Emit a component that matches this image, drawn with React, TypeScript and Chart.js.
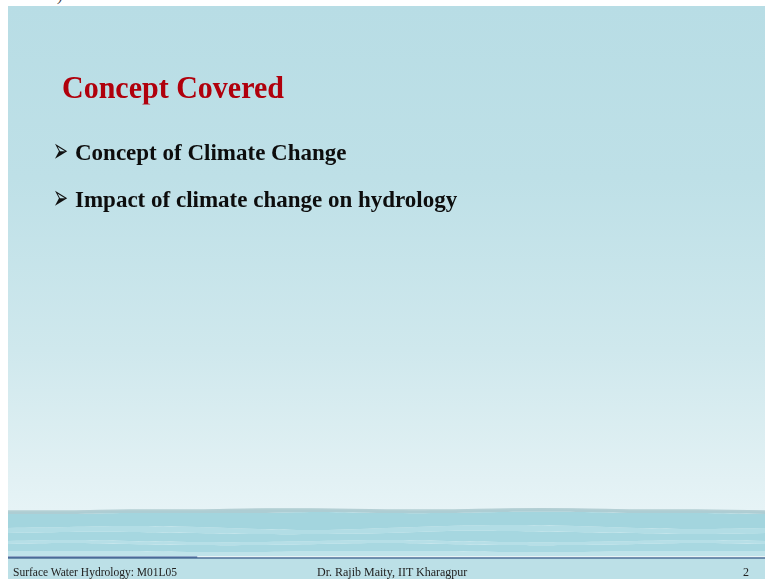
import React, { useEffect, useRef } from "react";
import { Chart, registerables } from "chart.js";

Chart.register(...registerables);

// Slide text
const titleText = "Concept Covered";
const bulletItems = ["Concept of Climate Change", "Impact of climate change on hydrology"];
const footerLeft = "Surface Water Hydrology: M01L05";
const footerCenter = "Dr. Rajib Maity, IIT Kharagpur";
const footerPage = "2";

// Decorative wave band at the bottom of the slide
// x: percent of slide width; y: depth from slide top (slide is 573 units tall)
const wavePosX = [0, 8, 16, 25, 33, 41, 50, 58, 66, 75, 83, 91, 100];
const waveTop = [505, 505, 504, 504, 503, 503, 504, 504, 503, 503, 504, 504, 505];
const waveEdge = [508, 508, 507, 507, 507, 506, 507, 507, 506, 506, 507, 507, 508];
const streakTop = [522, 521, 520, 521, 523, 524, 522, 520, 519, 520, 522, 523, 522];
const streakBottom = [527, 526, 526, 527, 528, 528, 527, 525, 525, 526, 527, 528, 527];
const lowerStreakTop = [535, 534, 535, 536, 536, 535, 534, 535, 536, 536, 535, 534, 535];
const lowerStreakBottom = [538, 537, 538, 539, 539, 538, 537, 538, 539, 539, 538, 537, 538];
const lowerBand = [545, 545, 545, 546, 546, 545, 545, 545, 546, 546, 545, 545, 545];
const shoreLine = [550, 550, 550, 550, 550, 550, 550, 550, 550, 550, 550, 550, 550];
const rule = [552, 552, 552, 552, 552, 552, 552, 552, 552, 552, 552, 552, 552];
const ruleThick = [552, 552, 552, 552, null, null, null, null, null, null, null, null, null];

const toPts = (arr: (number | null)[]) => wavePosX.map((x, i) => ({ x, y: arr[i] }));

const SERIF = "'Liberation Serif', 'Times New Roman', serif";

export default function App() {
  const ref = useRef<HTMLCanvasElement | null>(null);

  useEffect(() => {
    if (!ref.current) return;
    const bg = {
      id: "slideBg",
      beforeDraw(chart: any) {
        const { ctx, width, height } = chart;
        const g = ctx.createLinearGradient(0, 0, 0, height);
        g.addColorStop(0, "#b8dde5");
        g.addColorStop(0.3, "#bee0e7");
        g.addColorStop(0.6, "#cfe8ed");
        g.addColorStop(0.8, "#e0f0f3");
        g.addColorStop(0.88, "#e6f3f6");
        g.addColorStop(1, "#e8f4f6");
        ctx.save();
        ctx.fillStyle = g;
        ctx.fillRect(0, 0, width, height);
        ctx.restore();
      },
    };
    const common = { pointRadius: 0, tension: 0.4, borderWidth: 0 };
    const chart = new Chart(ref.current, {
      type: "line",
      data: {
        datasets: [
          { ...common, data: toPts(waveTop), borderColor: "#b4cfd4", borderWidth: 1.5, fill: false },
          { ...common, data: toPts(waveEdge), backgroundColor: "#adcdd3", fill: "-1" },
          { ...common, data: toPts(streakTop), backgroundColor: "#a3d5de", fill: "-1" },
          { ...common, data: toPts(streakBottom), backgroundColor: "#b2dde5", fill: "-1" },
          { ...common, data: toPts(lowerStreakTop), backgroundColor: "#a6d7e0", fill: "-1" },
          { ...common, data: toPts(lowerStreakBottom), backgroundColor: "#b6dfe7", fill: "-1" },
          { ...common, data: toPts(lowerBand), backgroundColor: "#a8d8e1", fill: "-1" },
          { ...common, data: toPts(shoreLine), backgroundColor: "#bfe3ea", fill: "-1" },
          { ...common, data: toPts(rule), backgroundColor: "#bce0e7", borderColor: "#4f7199", borderWidth: 1.5, fill: "start", tension: 0 },
          { ...common, data: toPts(ruleThick), borderColor: "#3b5d97", borderWidth: 3, fill: false, tension: 0, spanGaps: false },
        ] as any,
      },
      options: {
        animation: false,
        responsive: false,
        maintainAspectRatio: false,
        layout: { padding: 0 },
        scales: {
          x: { type: "linear", min: 0, max: 100, display: false },
          y: { type: "linear", min: 0, max: 573, reverse: true, display: false },
        },
        plugins: { legend: { display: false }, tooltip: { enabled: false }, title: { display: false } },
      },
      plugins: [bg],
    });
    return () => chart.destroy();
  }, []);

  return (
    <div
      style={{
        position: "absolute",
        left: 0,
        top: 0,
        width: 765,
        height: 579,
        overflow: "hidden",
        background: "#ffffff",
        fontFamily: SERIF,
      }}
    >
      <span style={{ position: "absolute", left: 58, top: -10, fontSize: 14, fontStyle: "italic", color: "#333", lineHeight: "14px" }}>)</span>
      <canvas ref={ref} width={757} height={573} style={{ position: "absolute", left: 8, top: 6, width: 757, height: 573 }} />
      <div
        style={{
          position: "absolute",
          left: 62,
          top: 73,
          fontSize: 30,
          lineHeight: "30px",
          fontWeight: "bold",
          color: "#b0000c",
          whiteSpace: "nowrap",
          transform: "scaleY(1.08)",
          transformOrigin: "left bottom",
        }}
      >
        {titleText}
      </div>
      {bulletItems.map((t, i) => (
        <React.Fragment key={t}>
          <div
            style={{
              position: "absolute",
              left: 53,
              top: 141 + i * 47,
              fontSize: 18,
              lineHeight: "20px",
              fontFamily: "'DejaVu Sans', sans-serif",
              color: "#111",
              transform: "scaleY(1.9)",
              transformOrigin: "center center",
            }}
          >
            ➢
          </div>
          <div
            style={{
              position: "absolute",
              left: 75,
              top: 141 + i * 47,
              fontSize: 23,
              lineHeight: "23px",
              fontWeight: "bold",
              color: "#0d0d0d",
              whiteSpace: "nowrap",
            }}
          >
            {t}
          </div>
        </React.Fragment>
      ))}
      <div style={{ position: "absolute", left: 13, top: 566, fontSize: 11.5, lineHeight: "12px", color: "#222", whiteSpace: "nowrap" }}>
        {footerLeft}
      </div>
      <div style={{ position: "absolute", left: 317, top: 566, fontSize: 12, lineHeight: "12px", color: "#222", whiteSpace: "nowrap" }}>
        {footerCenter}
      </div>
      <div style={{ position: "absolute", left: 743, top: 566, fontSize: 12, lineHeight: "12px", color: "#222", whiteSpace: "nowrap" }}>
        {footerPage}
      </div>
    </div>
  );
}
